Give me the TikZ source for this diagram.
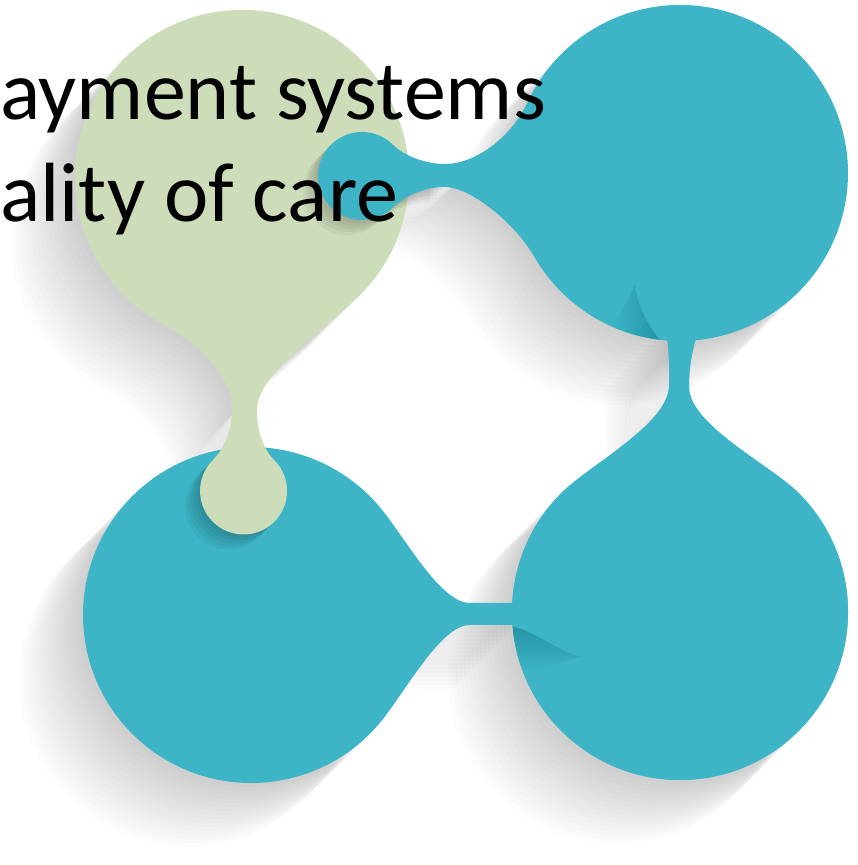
\documentclass[tikz,border=0pt]{standalone}
\usepackage{fontspec}
\setmainfont{Carlito}
\usepackage{xcolor}
\usepackage{tikz}

\definecolor{blobteal}{RGB}{61,181,198}
\definecolor{blobgreen}{RGB}{205,221,186}
\definecolor{curlteal}{RGB}{36,148,166}

% outlines of the four blobs (1pt = 1px of the picture)
\newcommand{\greenblob}{(360.1,569.9) .. controls (324.7,534.5) and (257,492) .. (257,455)
  .. controls (257,440) and (260.2,418.9) .. (274.3,404.8)
  arc[start angle=45, end angle=-225, radius=43.5]
  .. controls (226.8,418.9) and (232,440) .. (232,455)
  .. controls (232,490) and (198.9,521.7) .. (163.6,540.6)
  arc[start angle=-118, end angle=-405, radius=167] -- cycle}
\newcommand{\greendrop}{(243.5,374) circle[radius=43.5]}
\newcommand{\topblob}{(527.7,763.0) arc[start angle=155, end angle=-150, radius=168]
  .. controls (514.5,642.6) and (470,678) .. (445,678)
  .. controls (425,678) and (403.7,668.5) .. (393.1,657.9)
  arc[start angle=-45, end angle=-315, radius=44]
  .. controls (403.7,709.5) and (425,701) .. (445,701)
  .. controls (475,701) and (510.8,726.7) .. (527.7,763.0) -- cycle}
\newcommand{\topdrop}{(362,689) circle[radius=44]
  (393.1,657.9) .. controls (403.7,668.5) and (425,678) .. (445,678)
  -- (445,701) .. controls (425,701) and (403.7,709.5) .. (393.1,720.1) -- cycle}
\newcommand{\leftblob}{(379.7,358.0) .. controls (405.4,327.4) and (440,262) .. (470,262)
  -- (522,262) -- (522,240) -- (470,240)
  .. controls (440,240) and (405.4,172.6) .. (379.7,142.0)
  arc[start angle=-40, end angle=-320, radius=168] -- cycle}
\newcommand{\rightblob}{(561.2,371.8) .. controls (589.5,400.1) and (667,440) .. (669,478)
  .. controls (670,505) and (668,520) .. (666,540) -- (700,540)
  .. controls (692,515) and (689,500) .. (689,478)
  .. controls (689,440) and (770.5,400.1) .. (798.8,371.8)
  arc[start angle=45, end angle=-225, radius=168] -- cycle}

\begin{document}
\begin{tikzpicture}[x=1pt, y=1pt,
    blobshadow/.style={fill=black, opacity=0.013},
    dropshadow/.style={fill=black, opacity=0.045},
    title/.style={anchor=base west, inner sep=0pt, font=\fontsize{84}{100}\selectfont}]
    \useasboundingbox (0,0) rectangle (857,865);
    \clip (0,0) rectangle (857,865);
    \fill[white] (0,0) rectangle (857,865);
    % Long shadows on the paper
    \foreach \k in {1,...,16} {
        \fill[blobshadow, shift={(-4*\k,-4*\k)}] \rightblob;
        \fill[blobshadow, shift={(-4*\k,-4*\k)}] \leftblob;
        \fill[blobshadow, shift={(-4*\k,-4*\k)}] \greenblob;
        \fill[blobshadow, shift={(-4*\k,-4*\k)}] \topblob;
    }
    % Bottom blobs
    \fill[blobteal] \rightblob;
    \fill[blobteal] \leftblob;
    % Green blob, its drop lies on the bottom left blob
    \foreach \k in {1,...,5}
        \fill[dropshadow, shift={(-3*\k,-3*\k)}] \greendrop;
    \fill[blobgreen] \greenblob;
    % Top right blob, its drop lies on the green blob
    \foreach \k in {1,...,5}
        \fill[dropshadow, shift={(-3*\k,-3*\k)}] \topdrop;
    \fill[blobteal] \topblob;
    \fill[blobteal] \rightblob;
    % Curls
    \shade[left color=blobteal, right color=curlteal]
        (635,580) .. controls (628,565) and (620,550) .. (611.7,538.5)
        arc[start angle=-114, end angle=-97, radius=168]
        .. controls (648,540) and (637,560) .. (635,580) -- cycle;
    \shade[top color=curlteal, bottom color=blobteal]
        (523.2,192.8) arc[start angle=201, end angle=185, radius=168]
        .. controls (535,234) and (560,212) .. (582,208)
        .. controls (565,204) and (545,198) .. (523.2,192.8) -- cycle;
    % Title
    \node[title] (line1) at (0,745) {ayment systems};
    \node[title] (line2) at (0,643) {ality of care};
\end{tikzpicture}
\end{document}
